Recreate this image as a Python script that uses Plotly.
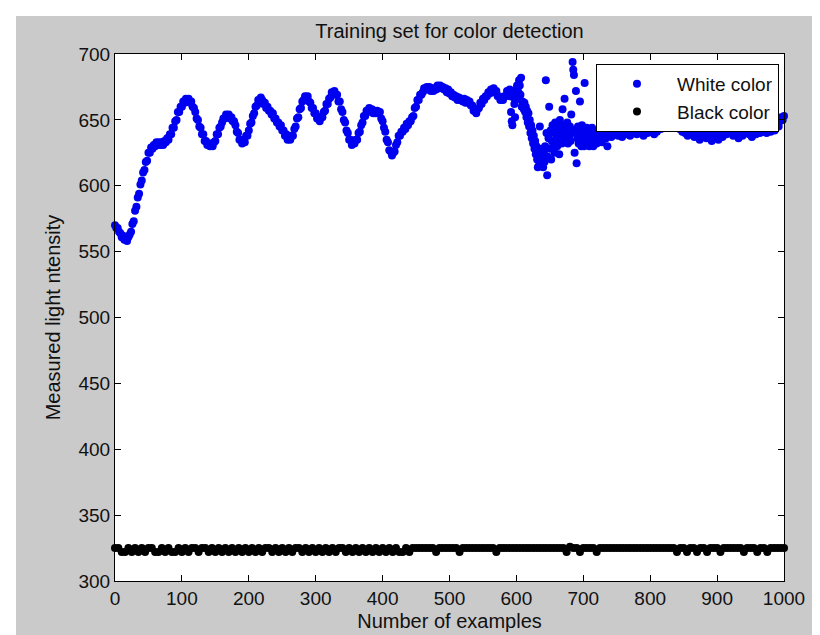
import plotly.graph_objects as go

# ---------------- data ----------------
# White color: examples 0..588, read every 2nd example
white_v_smooth = [
    570, 568, 568, 565, 564, 561, 562, 559, 560, 558,
    561, 563, 565, 571, 573, 581, 584, 591, 594, 601,
    604, 610, 612, 618, 619, 625, 625, 629, 628, 631,
    630, 633, 631, 633, 631, 633, 631, 634, 633, 636,
    635, 639, 639, 644, 644, 649, 650, 656, 656, 660,
    660, 664, 663, 666, 664, 666, 663, 664, 660, 659,
    656, 651, 650, 645, 644, 639, 639, 634, 634, 631,
    632, 630, 632, 630, 633, 634, 639, 639, 644, 645,
    648, 651, 651, 654, 652, 654, 651, 652, 649, 649,
    646, 641, 640, 635, 635, 632, 633, 633, 638, 638,
    642, 647, 648, 653, 655, 660, 661, 665, 665, 667,
    665, 662, 663, 659, 660, 657, 657, 654, 655, 651,
    651, 648, 648, 645, 646, 642, 642, 638, 639, 635,
    637, 635, 638, 638, 643, 645, 651, 652, 658, 659,
    664, 665, 668, 667, 668, 664, 663, 659, 659, 655,
    655, 651, 652, 649, 652, 652, 656, 657, 662, 662,
    666, 667, 671, 670, 672, 669, 669, 664, 664, 658,
    656, 650, 648, 642, 640, 635, 635, 631, 633, 632,
    635, 635, 640, 641, 646, 648, 653, 653, 657, 656,
    659, 657, 658, 655, 657, 655, 657, 655, 656, 651,
    649, 644, 641, 635, 633, 627, 626, 623, 625, 626,
    631, 633, 638, 638, 641, 641, 644, 643, 647, 646,
    649, 649, 652, 653, 659, 660, 665, 665, 669, 669,
    671, 674, 673, 675, 673, 675, 672, 674, 672, 674,
    673, 676, 674, 676, 674, 675, 673, 674, 671, 673,
    670, 671, 668, 669, 667, 668, 665, 667, 665, 666,
    664, 666, 663, 665, 663, 664, 661, 661, 657, 657,
    655, 658, 659, 663, 662, 666, 665, 668, 668, 671,
    670, 673, 671, 674, 671, 672, 668, 668, 665, 666,
    665, 668, 668, 672, 671,
]
white_x_smooth = list(range(0, 589, 2))

# White color: examples 590..720, every example (scattered part)
white_v_scatter = [
    673, 668, 656, 649, 646, 670, 667, 662, 652, 665,
    673, 676, 668, 671, 680, 676, 669, 682, 660, 664,
    662, 658, 663, 656, 660, 652, 657, 648, 655, 645,
    650, 640, 646, 636, 642, 632, 638, 628, 634, 624,
    630, 620, 614, 626, 618, 645, 622, 616, 628, 620,
    614, 625, 618, 630, 680, 640, 608, 622, 636, 660,
    628, 642, 620, 634, 646, 630, 640, 625, 648, 635,
    642, 630, 646, 638, 624, 650, 636, 644, 632, 658,
    640, 646, 666, 634, 643, 637, 648, 632, 642, 638,
    645, 634, 654, 640, 694, 688, 684, 625, 642, 672,
    617, 636, 645, 632, 640, 664, 638, 630, 646, 635,
    642, 630, 678, 640, 634, 644, 632, 638, 642, 630,
    636, 640, 632, 644, 636, 630, 640, 634, 638, 642,
    632,
]
white_x_scatter = list(range(590, 721))

# White color: examples 722..1000, every 2nd example
white_v_tail = [
    640, 635, 642, 633, 638, 644, 636, 630, 640, 643,
    637, 641, 645, 639, 642, 638, 644, 640, 637, 642,
    645, 639, 641, 643, 638, 642, 640, 644, 641, 639,
    643, 640, 645, 641, 638, 642, 644, 640, 643, 641,
    645, 642, 639, 643, 641, 644, 646, 643, 647, 645,
    648, 646, 644, 647, 649, 646, 648, 645, 647, 644,
    646, 643, 645, 641, 644, 640, 642, 638, 641, 643,
    639, 641, 637, 640, 642, 638, 635, 639, 641, 637,
    640, 636, 639, 642, 637, 634, 638, 641, 636, 639,
    635, 638, 641, 637, 640, 643, 639, 641, 644, 640,
    642, 638, 641, 643, 639, 636, 640, 642, 638, 641,
    644, 640, 642, 639, 641, 637, 640, 643, 639, 641,
    644, 640, 642, 645, 641, 643, 640, 642, 644, 641,
    643, 645, 642, 644, 647, 645, 649, 652, 650, 653,
]
white_x_tail = list(range(722, 1001, 2))

white_x = white_x_smooth + white_x_scatter + white_x_tail
white_v = white_v_smooth + white_v_scatter + white_v_tail

# Black color: examples 0..1000, every 5th example
black_v = [
    325, 325, 322, 322, 325, 322, 325, 322, 325, 322,
    325, 325, 322, 322, 325, 322, 325, 322, 322, 325,
    322, 325, 322, 325, 325, 322, 325, 325, 322, 325,
    322, 325, 322, 325, 322, 325, 322, 325, 322, 325,
    322, 325, 322, 325, 322, 325, 325, 322, 325, 322,
    325, 322, 325, 322, 325, 325, 322, 325, 322, 325,
    322, 325, 322, 325, 322, 325, 322, 325, 325, 322,
    325, 322, 325, 322, 325, 322, 325, 322, 325, 322,
    325, 322, 325, 322, 325, 322, 322, 325, 322, 325,
    325, 325, 325, 325, 325, 325, 322, 325, 325, 325,
    325, 325, 325, 322, 325, 325, 325, 325, 325, 325,
    325, 325, 325, 325, 322, 325, 325, 325, 325, 325,
    325, 325, 325, 325, 325, 325, 325, 325, 325, 325,
    325, 325, 325, 325, 325, 322, 326, 325, 325, 322,
    325, 325, 325, 325, 322, 325, 325, 325, 325, 325,
    325, 325, 325, 325, 325, 325, 325, 325, 325, 325,
    325, 325, 325, 325, 325, 325, 325, 325, 322, 325,
    325, 322, 325, 325, 322, 325, 325, 322, 325, 325,
    325, 322, 325, 325, 325, 325, 325, 325, 322, 325,
    325, 325, 322, 325, 325, 322, 325, 325, 325, 325,
    325,
]
black_x = list(range(0, 1001, 5))

x_ticks = [0, 100, 200, 300, 400, 500, 600, 700, 800, 900, 1000]
y_ticks = [300, 350, 400, 450, 500, 550, 600, 650, 700]

# ---------------- figure ----------------
FONT = "Liberation Sans, Arial, Helvetica, sans-serif"
BLUE = "#0000f0"
TXT = "#111111"

fig = go.Figure()
fig.add_trace(go.Scatter(
    x=white_x, y=white_v, mode="markers", name="White color",
    marker=dict(color=BLUE, size=8, line=dict(width=0)),
    cliponaxis=False,
))
fig.add_trace(go.Scatter(
    x=black_x, y=black_v, mode="markers", name="Black color",
    marker=dict(color="#000000", size=8, line=dict(width=0)),
    cliponaxis=False,
))

axis_common = dict(
    showline=True, linecolor="black", linewidth=1, mirror="ticks",
    ticks="inside", ticklen=6, tickcolor="black", tickwidth=1,
    showgrid=False, zeroline=False,
    tickfont=dict(family=FONT, size=19, color=TXT),
)

fig.update_layout(
    width=820, height=635, autosize=False,
    margin=dict(l=107, r=44, t=46, b=62, pad=0),
    paper_bgcolor="#cacaca", plot_bgcolor="white",
    font=dict(family=FONT, size=19, color=TXT),
    title=dict(text="Training set for color detection", x=0.5, xref="paper",
               xanchor="center", y=1 - 23 / 635, yref="container", yanchor="middle",
               font=dict(family=FONT, size=20, color=TXT)),
    xaxis=dict(range=[0, 1000], tickvals=x_ticks,
               title=dict(text="Number of examples", standoff=6,
                          font=dict(family=FONT, size=20, color=TXT)),
               **axis_common),
    yaxis=dict(range=[300, 700], tickvals=y_ticks,
               title=dict(text="Measured light ntensity", standoff=12,
                          font=dict(family=FONT, size=20, color=TXT)),
               **axis_common),
    legend=dict(x=0.9925, xanchor="right", y=0.981, yanchor="top",
                bgcolor="white", bordercolor="black", borderwidth=1,
                itemwidth=70, font=dict(family=FONT, size=19, color=TXT)),
    showlegend=True,
    shapes=[
        dict(type="rect", xref="paper", yref="paper",
             x0=-0.3, x1=1.3,
             y0=(573 - 8) / 527, y1=1.3,
             fillcolor="white", line=dict(width=0), layer="below"),
        dict(type="rect", xref="paper", yref="paper",
             x0=-0.3, x1=(8 - 107) / 669,
             y0=-0.3, y1=1.3,
             fillcolor="white", line=dict(width=0), layer="below"),
    ],
)

fig.write_html("out.html")
